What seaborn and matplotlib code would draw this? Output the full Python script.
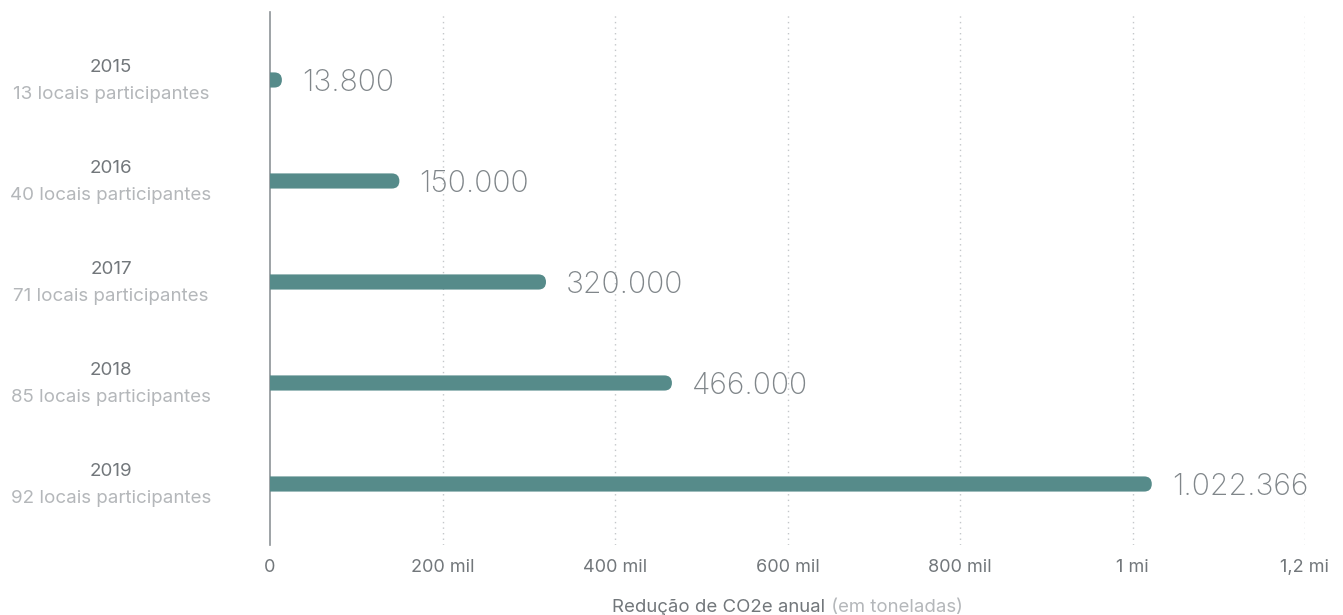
import matplotlib
matplotlib.use("Agg")
import matplotlib.pyplot as plt
from matplotlib.patches import FancyBboxPatch
from matplotlib.transforms import blended_transform_factory
import pandas as pd
import seaborn as sns

# Annual CO2e reduction per year
years = ["2015", "2016", "2017", "2018", "2019"]
sites = ["13 locais participantes", "40 locais participantes", "71 locais participantes",
         "85 locais participantes", "92 locais participantes"]
reduction = [13800, 150000, 320000, 466000, 1022366]
value_labels = ["13.800", "150.000", "320.000", "466.000", "1.022.366"]
tick_values = [0, 200000, 400000, 600000, 800000, 1000000, 1200000]
tick_labels = ["0", "200 mil", "400 mil", "600 mil", "800 mil", "1 mi", "1,2 mi"]

BAR = "#568b8a"
DARK = "#72777b"
LIGHT = "#b4b7ba"
VALUE = "#80868a"
GRID = "#c4c7ca"

sns.set_theme(style="white")
plt.rcParams["font.family"] = ["Inter", "DejaVu Sans"]

df = pd.DataFrame({"year": years, "reduction": reduction})

fig = plt.figure(figsize=(13.43, 6.15), dpi=100)
ax = fig.add_axes([270 / 1343, 1 - 545 / 615, 1035 / 1343, (545 - 12) / 615])

sns.barplot(data=df, x="reduction", y="year", orient="h", color=BAR,
            width=0.15, ax=ax, saturation=1)

ax.set_xlim(0, 1200000)
ax.set_ylim(4.604, -0.673)

# Replace plain rectangles with bars that have a rounded right end
fig.canvas.draw()
px_x = ax.transData.transform((1, 0))[0] - ax.transData.transform((0, 0))[0]
px_y = abs(ax.transData.transform((0, 1))[1] - ax.transData.transform((0, 0))[1])
for patch in list(ax.patches):
    x0, y0 = patch.get_x(), patch.get_y()
    w, h = patch.get_width(), patch.get_height()
    r = (h * px_y / 2) / px_x  # radius in x data units
    start = -3 * r
    fb = FancyBboxPatch((start, y0), x0 + w - start, h,
                        boxstyle=f"round,pad=0,rounding_size={r}",
                        mutation_aspect=px_x / px_y,
                        facecolor=BAR, edgecolor="none", zorder=3)
    patch.remove()
    ax.add_patch(fb)

# Value labels next to each bar
for i, (v, lab) in enumerate(zip(reduction, value_labels)):
    ax.annotate(lab, xy=(v, i), xytext=(14.5, -2), textcoords="offset points",
                va="center", ha="left", fontsize=21.7, color=VALUE,
                fontweight="light", zorder=4)

# Dotted vertical grid
for t in tick_values[1:]:
    ax.axvline(t, color=GRID, linestyle=(0, (1, 3)), linewidth=1, zorder=1)

ax.set_xticks(tick_values)
ax.set_xticklabels(tick_labels, fontsize=13, color=DARK)
ax.tick_params(axis="x", length=0, pad=10)
ax.set_yticks([])
ax.set_ylabel("")
ax.set_xlabel("")

for s in ["top", "right", "bottom"]:
    ax.spines[s].set_visible(False)
ax.spines["left"].set_color("#8e9397")
ax.spines["left"].set_linewidth(1.2)

# Two-line category labels: year and number of participating sites
trans = blended_transform_factory(ax.transAxes, ax.transData)
xc = (111 - 270) / 1035
for i, (yr, st) in enumerate(zip(years, sites)):
    ax.text(xc, i - 0.12, yr, transform=trans, ha="center", va="center",
            fontsize=13.5, color=DARK, clip_on=False)
    ax.text(xc, i + 0.145, st, transform=trans, ha="center", va="center",
            fontsize=13.5, color=LIGHT, clip_on=False)

# Axis title in two tones, centred under the plot
t1 = fig.text(0, 3 / 615, "Redução de CO2e anual", fontsize=13.4, color=DARK,
              ha="left", va="baseline")
t2 = fig.text(0, 3 / 615, " (em toneladas)", fontsize=13.4, color=LIGHT,
              ha="left", va="baseline")
fig.canvas.draw()
r = fig.canvas.get_renderer()
w1 = t1.get_window_extent(r).width
w2 = t2.get_window_extent(r).width
cx = 787.5
left = cx - (w1 + w2) / 2
t1.set_x(left / 1343)
t2.set_x((left + w1) / 1343)

fig.savefig("out.png", dpi=100)
